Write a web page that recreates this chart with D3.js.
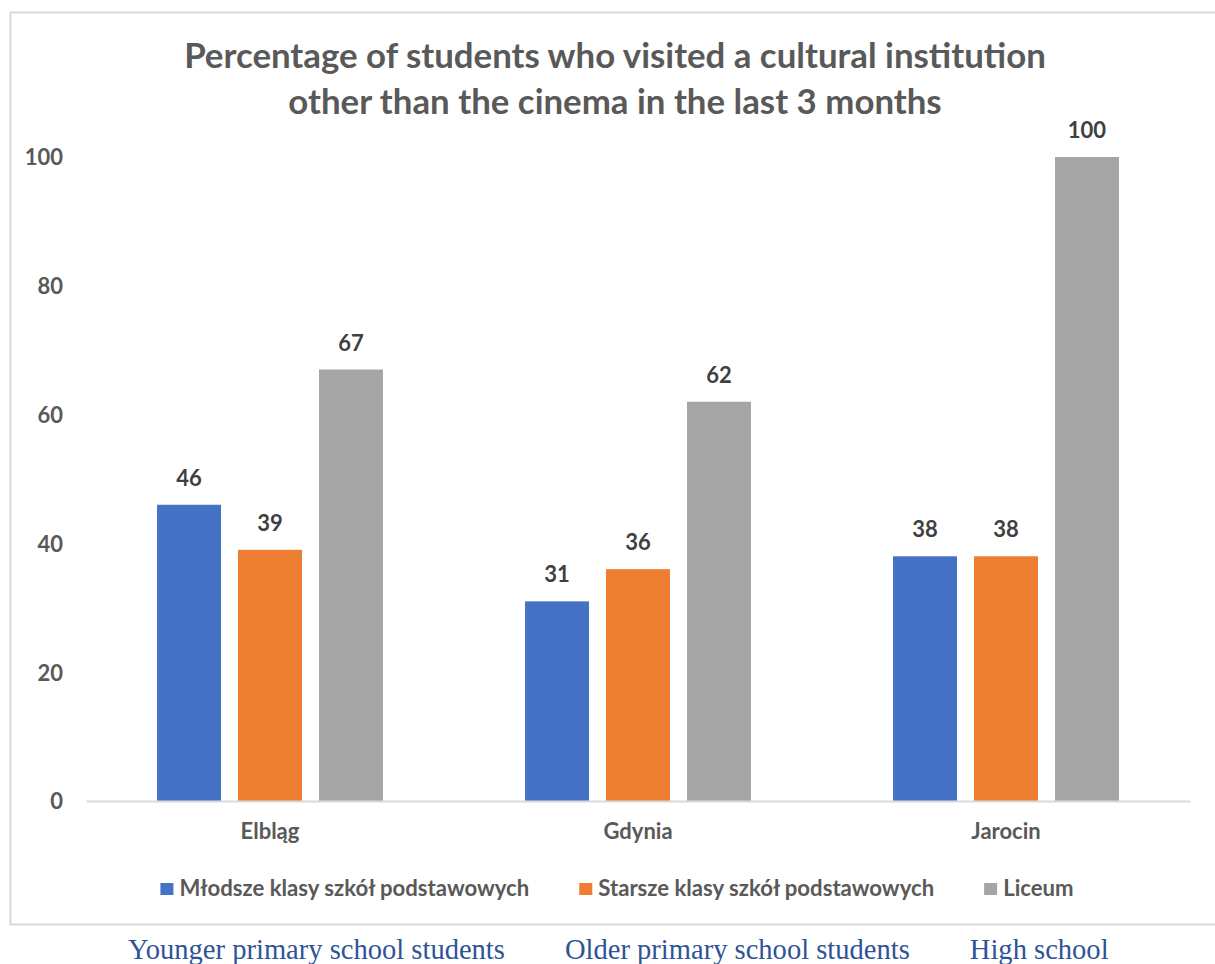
<!DOCTYPE html>
<html>
<head>
<meta charset="utf-8">
<script src="https://cdn.jsdelivr.net/npm/d3@7"></script>
<style>
  html, body { margin: 0; padding: 0; background: #ffffff; }
  svg { display: block; }
</style>
</head>
<body>
<svg id="chart" width="1215" height="964"></svg>
<script>
// Chart data
const cities = ["Elbląg", "Gdynia", "Jarocin"];
const seriesNames = ["Młodsze klasy szkół podstawowych", "Starsze klasy szkół podstawowych", "Liceum"];
const seriesColors = ["#4472C4", "#ED7D31", "#A5A5A5"];
const youngerValues = [46, 31, 38];
const olderValues = [39, 36, 38];
const liceumValues = [67, 62, 100];
const yTicks = [0, 20, 40, 60, 80, 100];
const titleLines = ["Percentage of students who visited a cultural institution", "other than the cinema in the last 3 months"];
const captions = ["Younger primary school students", "Older primary school students", "High school"];

const seriesValues = [youngerValues, olderValues, liceumValues];
const rows = cities.map((c, i) => ({
  city: c,
  values: seriesNames.map((s, j) => ({ series: s, value: seriesValues[j][i], color: seriesColors[j] }))
}));

const svg = d3.select("#chart");
const sans = "Lato, 'Open Sans', sans-serif";
const serif = "'Liberation Serif', 'DejaVu Serif', serif";
const labelSize = 22;

// Resize a text element's font so it spans the given width
function fitWidth(sel, target) {
  const node = sel.node();
  const fs = parseFloat(sel.attr("font-size"));
  const w = node.getComputedTextLength();
  sel.attr("font-size", (fs * target / w).toFixed(2));
  return fs * target / w;
}

// Frame around the chart area
svg.append("rect")
  .attr("x", 10.5).attr("y", 12.5)
  .attr("width", 1215).attr("height", 912)
  .attr("fill", "#ffffff")
  .attr("stroke", "#D9D9D9").attr("stroke-width", 2);

// Title
const titleG = svg.append("g");
const t1 = titleG.append("text")
  .attr("x", 615).attr("y", 68)
  .attr("text-anchor", "middle")
  .attr("font-family", sans).attr("font-weight", 700)
  .attr("font-size", 30).attr("fill", "#595959")
  .text(titleLines[0]);
const titleSize = fitWidth(t1, 862);
titleG.append("text")
  .attr("x", 615).attr("y", 114)
  .attr("text-anchor", "middle")
  .attr("font-family", sans).attr("font-weight", 700)
  .attr("font-size", titleSize).attr("fill", "#595959")
  .text(titleLines[1]);

// Scales
const x0 = d3.scaleBand().domain(cities).range([86, 1190]).paddingInner(0).paddingOuter(0);
const x1 = d3.scaleBand().domain(seriesNames).range([0, x0.bandwidth()]).paddingInner(0.21).paddingOuter(0.877);
const y = d3.scaleLinear().domain([0, 100]).range([801, 157]);

// Y axis labels (no line, no ticks)
const yAxis = d3.axisLeft(y).tickValues(yTicks).tickSize(0).tickPadding(0);
const yG = svg.append("g").attr("transform", "translate(63,0)").call(yAxis);
yG.select(".domain").remove();
yG.selectAll("text")
  .attr("font-family", sans).attr("font-weight", 700)
  .attr("font-size", labelSize).attr("fill", "#595959")
  .attr("dy", "0.36em");

// Bars
const groups = svg.append("g").selectAll("g")
  .data(rows).join("g")
  .attr("transform", d => `translate(${x0(d.city)},0)`);

groups.selectAll("rect")
  .data(d => d.values).join("rect")
  .attr("x", d => x1(d.series))
  .attr("y", d => y(d.value))
  .attr("width", x1.bandwidth())
  .attr("height", d => y(0) - y(d.value))
  .attr("fill", d => d.color);

// Value labels above bars
groups.selectAll("text")
  .data(d => d.values).join("text")
  .attr("x", d => x1(d.series) + x1.bandwidth() / 2)
  .attr("y", d => y(d.value) - 19)
  .attr("text-anchor", "middle")
  .attr("font-family", sans).attr("font-weight", 700)
  .attr("font-size", labelSize).attr("fill", "#404040")
  .text(d => d.value);

// X axis baseline and category labels
const xAxis = d3.axisBottom(x0).tickSize(0).tickPadding(0);
const xG = svg.append("g").attr("transform", `translate(0,${y(0)})`).call(xAxis);
xG.select(".domain").attr("stroke", "#D9D9D9").attr("stroke-width", 2);
xG.selectAll("text")
  .attr("font-family", sans).attr("font-weight", 700)
  .attr("font-size", labelSize).attr("fill", "#595959")
  .attr("dy", null).attr("y", 38);

// Legend
const legend = svg.append("g").attr("transform", "translate(0,896)");
const items = legend.selectAll("g").data(seriesNames).join("g");
items.append("rect")
  .attr("y", -13).attr("width", 13).attr("height", 12)
  .attr("fill", (d, i) => seriesColors[i]);
const legTexts = items.append("text")
  .attr("x", 19)
  .attr("font-family", sans).attr("font-weight", 700)
  .attr("font-size", 20).attr("fill", "#595959")
  .text(d => d);
const legSize = fitWidth(d3.select(legTexts.nodes()[0]), 350);
legTexts.attr("font-size", legSize);
const legWidths = legTexts.nodes().map(n => 19 + n.getComputedTextLength());
const legGap = 50;
const legTotal = d3.sum(legWidths) + legGap * (legWidths.length - 1);
let lx = 617 - legTotal / 2;
items.attr("transform", (d, i) => {
  const t = `translate(${lx},0)`;
  lx += legWidths[i] + legGap;
  return t;
});

// English captions below the frame
const capG = svg.append("g");
const caps = capG.selectAll("text").data(captions).join("text")
  .attr("y", 959)
  .attr("font-family", serif)
  .attr("font-size", 25).attr("fill", "#2F5496")
  .text(d => d);
const capSize = fitWidth(d3.select(caps.nodes()[0]), 377);
caps.attr("font-size", capSize);
let cx = 128;
caps.each(function () {
  d3.select(this).attr("x", cx);
  cx += this.getComputedTextLength() + 60;
});
</script>
</body>
</html>
